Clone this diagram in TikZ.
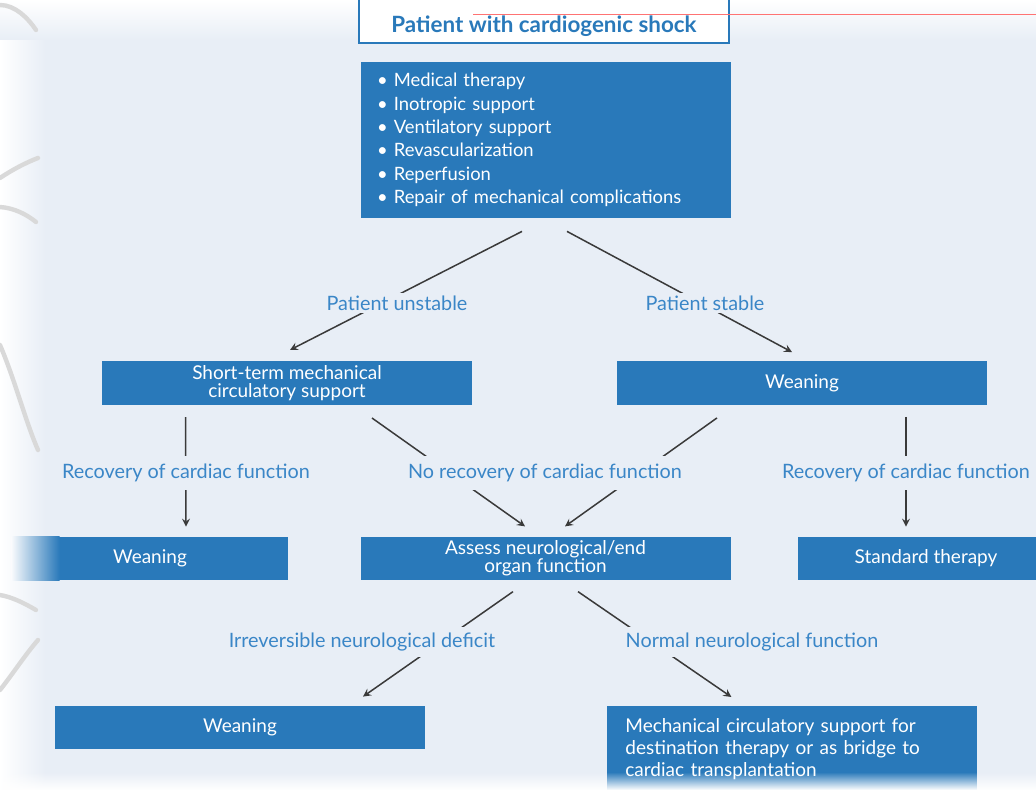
\documentclass[tikz,border=0pt]{standalone}
\usepackage{fontspec}
\setmainfont{Lato}
\usetikzlibrary{calc,fadings}

\definecolor{boxblue}{HTML}{2979BA}
\definecolor{panelbg}{HTML}{E8EEF6}
\definecolor{labelblue}{HTML}{3A86C7}
\definecolor{linegray}{HTML}{3A3A3A}

\begin{document}
\begin{tikzpicture}[x=0.5pt, y=-0.5pt,
        blue_box/.style={fill=boxblue, text=white, minimum width=185pt, minimum height=21.5pt, align=center, inner sep=2pt, font=\fontsize{9.5}{9}\selectfont},
        title_box/.style={draw=boxblue, line width=0.9pt, fill=white, text=boxblue, minimum width=185pt, anchor=south, inner ysep=3pt, text height=40pt, text depth=2.5pt, font=\bfseries\fontsize{11.2}{12}\selectfont},
        branch_label/.style={fill=panelbg, text=labelblue, inner xsep=2pt, inner ysep=4pt, font=\fontsize{9.9}{11}\selectfont},
        flow/.style={->, linegray, line width=0.75pt},
        >=stealth
    ]
        \useasboundingbox (0,0) rectangle (1036,790);

        % Panel with faded edges
        \fill[panelbg] (0,0) rectangle (1036,790);
        \shade[left color=white, right color=panelbg] (0,0) rectangle (45,790);
        \shade[top color=white, bottom color=panelbg] (0,0) rectangle (1036,40);
        \begin{scope}[gray!30, line width=2.2pt, line cap=round]
            \draw (0,5) .. controls (15,5) and (28,18) .. (36,30);
            \draw (0,178) .. controls (12,170) and (25,163) .. (38,158);
            \draw (0,207) .. controls (14,208) and (26,214) .. (36,222);
            \draw (0,345) .. controls (15,380) and (25,420) .. (38,450);
            \draw (0,595) .. controls (12,597) and (24,603) .. (36,610);
            \draw (0,690) .. controls (12,675) and (25,655) .. (38,640);
        \end{scope}

        % Boxes
        \node[title_box] (shock) at (544,44) {Patient with cardiogenic shock};
        \draw[red!55, line width=0.4pt] (473,14) -- (1036,14);

        \node[blue_box, align=left, text width=169pt, inner xsep=7.5pt, minimum height=78pt, font=\fontsize{9.2}{11.7}\selectfont] (therapy) at (546,140)
            {\textbullet\ Medical therapy\\
             \textbullet\ Inotropic support\\
             \textbullet\ Ventilatory support\\
             \textbullet\ Revascularization\\
             \textbullet\ Reperfusion\\
             \textbullet\ Repair of mechanical complications};

        \node[blue_box] (shortterm) at (287,383) {Short-term mechanical\\circulatory support};
        \node[blue_box] (weanTop) at (802,383) {Weaning};

        \node[blue_box, minimum width=138pt] (weanLeft) at (150,558.5) {Weaning};
        \shade[left color=panelbg!30!white, right color=boxblue] (weanLeft.south west) rectangle ($(weanLeft.north west)+(48,0)$);
        \node[blue_box] (assess) at (545.5,558.5) {Assess neurological/end\\organ function};
        \node[blue_box, minimum width=128pt] (standard) at (926,558.5) {Standard therapy};

        \node[blue_box] (weanBot) at (240,727.5) {Weaning};
        \node[blue_box, anchor=north west, align=left, text width=167pt, inner xsep=9pt, inner ysep=6pt, minimum height=0pt, font=\fontsize{9.5}{11}\selectfont] (mcs) at (607,706)
            {Mechanical circulatory support for\\destination therapy or as bridge to\\cardiac transplantation};

        % Connectors
        \draw[flow] ($(therapy.south)+(-24,13)$) -- ($(shortterm.north)+(3,-11)$);
        \draw[flow] ($(therapy.south)+(21,13)$) -- ($(weanTop.north)+(-10,-9)$);
        \draw[flow] ($(shortterm.south west)+(84,12)$) -- ($(weanLeft.north)+(36,-10)$);
        \draw[flow] ($(shortterm.south)+(85,13)$) -- ($(assess.north)+(-20.5,-10)$);
        \draw[flow] ($(weanTop.south)+(-85,13)$) -- ($(assess.north)+(19.5,-10)$);
        \draw[flow] ($(weanTop.south)+(104,12)$) -- ($(standard.north)+(-20,-10)$);
        \draw[flow] ($(assess.south)+(-32.5,11)$) -- ($(weanBot.north)+(123,-9)$);
        \draw[flow] ($(assess.south)+(32.5,11)$) -- ($(mcs.north)+(-61,-9)$);

        % Branch labels
        \node[branch_label, inner ysep=1.5pt] (unstable) at (397,303) {Patient unstable};
        \node[branch_label, inner ysep=1.5pt] (stable) at (705,303) {Patient stable};
        \node[branch_label] (recLeft) at (186,473) {Recovery of cardiac function};
        \node[branch_label] (noRec) at (545,473) {No recovery of cardiac function};
        \node[branch_label] (recRight) at (906,473) {Recovery of cardiac function};
        \node[branch_label, inner ysep=3pt] (irrev) at (362,642) {Irreversible neurological deficit};
        \node[branch_label, inner ysep=3pt] (normal) at (752,642) {Normal neurological function};

        % Fade towards the bottom edge
        \fill[white, path fading=north] (0,772) rectangle (1036,790);
    \end{tikzpicture}
\end{document}
